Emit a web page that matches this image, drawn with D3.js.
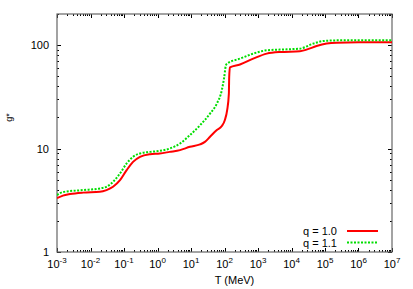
<!DOCTYPE html>
<html>
<head>
<meta charset="utf-8">
<script src="https://cdn.jsdelivr.net/npm/d3@7"></script>
<style>
  html, body { margin: 0; padding: 0; background: #fff; }
  svg { display: block; font-family: "Liberation Sans", Arial, sans-serif; }
</style>
</head>
<body>
<div id="grafico"></div>
<script>
// g* contra T, ejes log-log, dos valores de q

// curva q = 1.0 (roja)
var tRojo = [0.001, 0.0015, 0.00245, 0.006, 0.019, 0.03, 0.047, 0.076, 0.12, 0.186,
  0.30, 0.60, 1.17, 2.3, 4.7, 9.3, 18.6, 26, 37, 59, 83, 102, 120, 135, 138, 145,
  290, 720, 1820, 4570, 17800, 28000, 56000, 112000, 224000, 1e6, 1e7];
var gRojo = [3.32, 3.51, 3.63, 3.75, 3.82, 3.97, 4.27, 4.95, 6.19, 7.44,
  8.32, 8.83, 8.97, 9.29, 9.66, 10.4, 10.96, 11.6, 13.0, 15.1, 16.5, 18.8, 23.5, 34, 49, 61,
  65, 74, 82.8, 85.8, 87.1, 90.5, 98, 103.5, 105.7, 106.75, 106.75];

// curva q = 1.1 (verde punteada)
var tVerde = [0.001, 0.0015, 0.006, 0.019, 0.03, 0.047, 0.076, 0.12, 0.186, 0.30,
  0.60, 1.17, 2.3, 4.7, 9.3, 18.6, 37, 59, 83, 98, 110, 120,
  290, 720, 1820, 7240, 17800, 44700, 89000, 224000, 1e7];
var gVerde = [3.55, 3.8, 3.97, 4.12, 4.27, 4.77, 5.75, 7.18, 8.32, 8.97,
  9.29, 9.5, 10.0, 11.2, 13.5, 16.8, 21.8, 27.2, 36.6, 49, 63.8, 66.3,
  74.1, 82.8, 89.1, 91.1, 92.5, 103.5, 109.6, 111.2, 111.2];

// exponentes de las marcas del eje x y valores del eje y
var expX = [-3, -2, -1, 0, 1, 2, 3, 4, 5, 6, 7];
var marcasY = [1, 10, 100];
var leyenda = ["q = 1.0", "q = 1.1"];

(function () {
  var ancho = 413, alto = 289;
  var margen = { top: 14, right: 21, bottom: 37, left: 57 };
  var w = ancho - margen.left - margen.right;
  var h = alto - margen.top - margen.bottom;

  var x = d3.scaleLog().domain([1e-3, 1e7]).range([0, w]);
  var y = d3.scaleLog().domain([1, 200]).range([h, 0]);

  var svg = d3.select("#grafico").append("svg")
    .attr("width", ancho)
    .attr("height", alto);

  var g = svg.append("g")
    .attr("transform", "translate(" + margen.left + "," + margen.top + ")");

  g.append("clipPath").attr("id", "recorte")
    .append("rect").attr("width", w).attr("height", h);

  // marcas menores: 2..9 de cada decada
  var menoresX = [];
  expX.forEach(function (e) {
    for (var k = 2; k <= 9; k++) {
      var v = k * Math.pow(10, e);
      if (v < 1e7) menoresX.push(v);
    }
  });
  var menoresY = [];
  [0, 1, 2].forEach(function (e) {
    for (var k = 2; k <= 9; k++) {
      var v = k * Math.pow(10, e);
      if (v <= 200) menoresY.push(v);
    }
  });
  var mayoresX = expX.map(function (e) { return Math.pow(10, e); });

  var ticks = g.append("g").attr("stroke", "#000").attr("stroke-width", 1);

  // ticks hacia adentro en los cuatro lados (estilo gnuplot)
  function marcasVerticales(valores, largo) {
    valores.forEach(function (v) {
      var px = Math.round(x(v)) + 0.5;
      ticks.append("line").attr("x1", px).attr("x2", px).attr("y1", h).attr("y2", h - largo);
      ticks.append("line").attr("x1", px).attr("x2", px).attr("y1", 0).attr("y2", largo);
    });
  }
  function marcasHorizontales(valores, largo) {
    valores.forEach(function (v) {
      var py = Math.round(y(v)) + 0.5;
      ticks.append("line").attr("y1", py).attr("y2", py).attr("x1", 0).attr("x2", largo);
      ticks.append("line").attr("y1", py).attr("y2", py).attr("x1", w).attr("x2", w - largo);
    });
  }
  marcasVerticales(mayoresX, 4);
  marcasVerticales(menoresX, 2);
  marcasHorizontales(marcasY, 4);
  marcasHorizontales(menoresY, 2);

  // marco
  g.append("rect")
    .attr("x", 0).attr("y", 0)
    .attr("width", w).attr("height", h)
    .attr("fill", "none")
    .attr("stroke", "#666")
    .attr("stroke-width", 1.2);

  // etiquetas del eje x: 10 con exponente
  var etX = g.append("g").attr("font-size", 11).attr("fill", "#000");
  expX.forEach(function (e) {
    var t = etX.append("text")
      .attr("x", x(Math.pow(10, e)))
      .attr("y", h + 16)
      .attr("text-anchor", "middle");
    t.append("tspan").text("10");
    t.append("tspan").attr("dy", -5).attr("font-size", 8).text(e);
  });

  // etiquetas del eje y
  g.append("g").attr("font-size", 11)
    .selectAll("text").data(marcasY).enter()
    .append("text")
    .attr("x", -8)
    .attr("y", function (d) { return y(d) + 4; })
    .attr("text-anchor", "end")
    .text(function (d) { return d; });

  g.append("text")
    .attr("x", w / 2 + 10)
    .attr("y", h + 32)
    .attr("text-anchor", "middle")
    .attr("font-size", 11)
    .text("T (MeV)");

  g.append("text")
    .attr("transform", "translate(" + (12 - margen.left) + "," + y(20) + ") rotate(-90)")
    .attr("text-anchor", "middle")
    .attr("font-size", 9)
    .text("g*");

  var linea = function (ts, gs) {
    return d3.line()
      .x(function (d, i) { return x(ts[i]); })
      .y(function (d, i) { return y(gs[i]); })
      .curve(d3.curveMonotoneX)(ts);
  };

  var curvas = g.append("g").attr("clip-path", "url(#recorte)").attr("fill", "none");
  curvas.append("path")
    .attr("d", linea(tRojo, gRojo))
    .attr("stroke", "#f00")
    .attr("stroke-width", 2);
  curvas.append("path")
    .attr("d", linea(tVerde, gVerde))
    .attr("stroke", "#0d0")
    .attr("stroke-width", 2)
    .attr("stroke-dasharray", "2,1.5");

  // leyenda abajo a la derecha
  var estilos = [
    { color: "#f00", guion: null },
    { color: "#0d0", guion: "2,1.5" }
  ];
  var ley = g.append("g").attr("font-size", 11);
  leyenda.forEach(function (et, i) {
    var yy = 217 + i * 11.5;
    ley.append("text")
      .attr("x", 337 - margen.left)
      .attr("y", yy + 4)
      .attr("text-anchor", "end")
      .text(et);
    ley.append("line")
      .attr("x1", 347 - margen.left).attr("x2", 378 - margen.left)
      .attr("y1", yy).attr("y2", yy)
      .attr("stroke", estilos[i].color)
      .attr("stroke-width", 2)
      .attr("stroke-dasharray", estilos[i].guion);
  });
})();
</script>
</body>
</html>
